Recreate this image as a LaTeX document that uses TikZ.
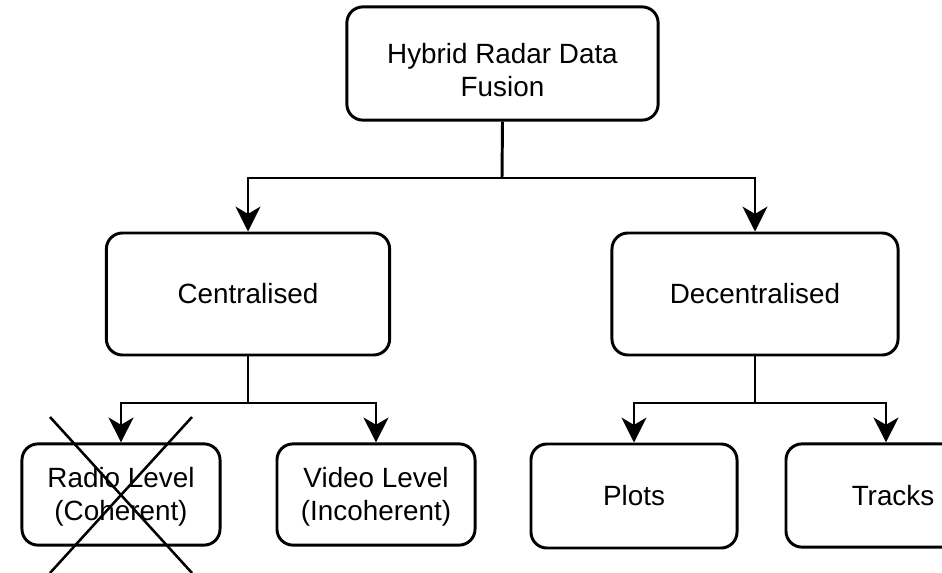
\documentclass[tikz,border=0pt]{standalone}
\usepackage{fontspec}
\setmainfont{Liberation Sans}
\usetikzlibrary{arrows.meta}

\begin{document}
\begin{tikzpicture}[
    x=0.025cm, y=-0.025cm,
    >={Stealth[length=0.62cm,width=0.62cm,inset=0.18cm]},
    every node/.style={font=\fontsize{19.8}{23.5}\selectfont},
    level/.style={draw, line width=2.1pt, rounded corners=0.4cm, align=center, inner sep=0pt},
    link/.style={->, line width=2.1pt},
    strike/.style={line width=1.8pt}
  ]
  \useasboundingbox (0,0) rectangle (942,573);

    %------------------ Root -----------------%
    \node[level, minimum width=7.78cm, minimum height=2.83cm] (hrdf) at (502.5,63.5)
      {\rule{0pt}{23pt}Hybrid Radar Data\\Fusion};

    %------------------ Second level -----------------%
    \node[level, minimum width=7.08cm, minimum height=3.05cm] (cent) at (248,294) {Centralised};
    \node[level, minimum width=7.15cm, minimum height=3.05cm] (decent) at (755,294) {Decentralised};

    %------------------ Third level -----------------%
    \node[level, minimum width=4.95cm, minimum height=2.53cm] (radio) at (121,494.5)
      {\rule{0pt}{17pt}Radio Level\\(Coherent)};
    \node[level, minimum width=4.95cm, minimum height=2.53cm] (video) at (376,494.5)
      {\rule{0pt}{17pt}Video Level\\(Incoherent)};
    \node[level, minimum width=5.15cm, minimum height=2.6cm] (plots) at (634,496) {Plots};
    \node[level, minimum width=5cm, minimum height=2.58cm] (tracks) at (886,495.5)
      {\hspace*{0.35cm}Tracks};

    % Split points
    \coordinate (s1) at (502,178);
    \coordinate (s2) at (248,403);
    \coordinate (s3) at (755,403);

    % Connectors
    \draw[line width=2.1pt] (hrdf.south) -- (s1);
    \draw[link] (s1) -| (cent.north);
    \draw[link] (s1) -| (decent.north);

    \draw[line width=2.1pt] (cent.south) -- (s2);
    \draw[link] (s2) -| (radio.north);
    \draw[link] (s2) -| (video.north);

    \draw[line width=2.1pt] (decent.south) -- (s3);
    \draw[link] (s3) -| (plots.north);
    \draw[link] (s3) -| (tracks.north);

    % Crossed out
    \draw[strike] (50,417) -- (192,573);
    \draw[strike] (192,417) -- (50,573);

  \end{tikzpicture}
\end{document}
